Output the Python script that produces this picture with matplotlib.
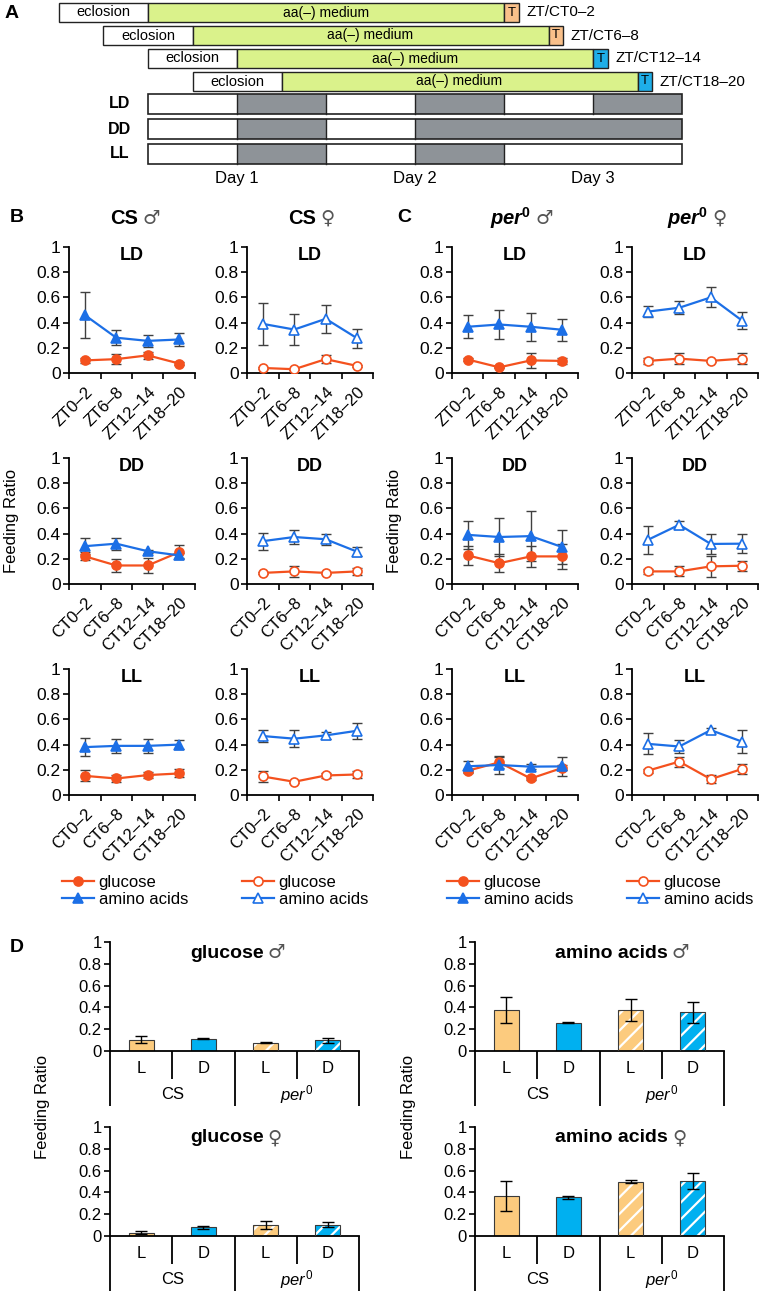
import matplotlib
matplotlib.use('Agg')
import matplotlib.pyplot as plt
import numpy as np
from matplotlib.patches import Rectangle
from matplotlib.lines import Line2D

plt.rcParams['font.family'] = ['Liberation Sans', 'DejaVu Sans']
plt.rcParams['mathtext.fontset'] = 'custom'
plt.rcParams['mathtext.rm'] = 'Liberation Sans'
plt.rcParams['mathtext.it'] = 'Liberation Sans:italic'
plt.rcParams['mathtext.bf'] = 'Liberation Sans:italic:bold'
plt.rcParams['mathtext.sf'] = 'Liberation Sans:bold'
plt.rcParams['hatch.linewidth'] = 1.6

# ---------------- data ----------------
# Panel A schedule (hours, 0 = start of Day 1)
schedule_labels = ['ZT/CT0–2', 'ZT/CT6–8', 'ZT/CT12–14', 'ZT/CT18–20']
eclosion_start = [-12, -6, 0, 6]
eclosion_len = 12
medium_len = 48
test_len = 2
test_colors = ['#F9C08A', '#F9C08A', '#1EAEE8', '#1EAEE8']
light_conditions = ['LD', 'DD', 'LL']
light_patterns = ['LDLDLD', 'LDLDDD', 'LDLDLL']
segment_hours = 12
day_labels = ['Day 1', 'Day 2', 'Day 3']

# Panels B/C
zt_labels = ['ZT0–2', 'ZT6–8', 'ZT12–14', 'ZT18–20']
ct_labels = ['CT0–2', 'CT6–8', 'CT12–14', 'CT18–20']

cs_m_glc = [[0.10, 0.11, 0.14, 0.075], [0.22, 0.147, 0.147, 0.253], [0.152, 0.131, 0.158, 0.171]]
cs_m_glc_err = [[0.02, 0.04, 0.027, 0.01], [0.033, 0.048, 0.056, 0.053], [0.043, 0.03, 0.022, 0.032]]
cs_m_aa = [[0.46, 0.28, 0.255, 0.266], [0.30, 0.32, 0.26, 0.227], [0.38, 0.39, 0.39, 0.40]]
cs_m_aa_err = [[0.185, 0.06, 0.05, 0.05], [0.063, 0.047, 0.01, 0.02], [0.07, 0.057, 0.057, 0.038]]

cs_f_glc = [[0.04, 0.03, 0.11, 0.056], [0.088, 0.10, 0.088, 0.10], [0.147, 0.105, 0.155, 0.163]]
cs_f_glc_err = [[0.008, 0.005, 0.03, 0.008], [0.008, 0.043, 0.008, 0.028], [0.043, 0.006, 0.02, 0.03]]
cs_f_aa = [[0.39, 0.345, 0.43, 0.275], [0.34, 0.373, 0.355, 0.256], [0.468, 0.447, 0.473, 0.51]]
cs_f_aa_err = [[0.165, 0.12, 0.11, 0.075], [0.068, 0.053, 0.043, 0.036], [0.05, 0.067, 0.027, 0.064]]

per_m_glc = [[0.107, 0.045, 0.10, 0.096], [0.227, 0.165, 0.219, 0.219], [0.193, 0.259, 0.131, 0.215]]
per_m_glc_err = [[0.015, 0.005, 0.057, 0.022], [0.078, 0.07, 0.085, 0.1], [0.015, 0.045, 0.01, 0.02]]
per_m_aa = [[0.367, 0.385, 0.367, 0.343], [0.39, 0.373, 0.38, 0.293], [0.228, 0.238, 0.225, 0.227]]
per_m_aa_err = [[0.093, 0.115, 0.11, 0.087], [0.112, 0.15, 0.2, 0.135], [0.045, 0.07, 0.02, 0.077]]

per_f_glc = [[0.096, 0.114, 0.096, 0.114], [0.10, 0.10, 0.14, 0.145], [0.193, 0.265, 0.126, 0.207]]
per_f_glc_err = [[0.026, 0.045, 0.01, 0.045], [0.02, 0.04, 0.085, 0.04], [0.015, 0.04, 0.03, 0.04]]
per_f_aa = [[0.487, 0.518, 0.60, 0.415], [0.35, 0.47, 0.318, 0.32], [0.406, 0.385, 0.515, 0.423]]
per_f_aa_err = [[0.045, 0.052, 0.08, 0.068], [0.11, 0.03, 0.08, 0.076], [0.083, 0.05, 0.015, 0.09]]

# Panel D
bar_light = ['L', 'D', 'L', 'D']
bar_strains = ['CS', r'$\mathit{per}^{0}$']
glc_male = [0.103, 0.112, 0.076, 0.097]
glc_male_err = [0.033, 0.005, 0.003, 0.024]
aa_male = [0.373, 0.26, 0.373, 0.355]
aa_male_err = [0.12, 0.005, 0.10, 0.097]
glc_female = [0.03, 0.079, 0.10, 0.103]
glc_female_err = [0.012, 0.013, 0.036, 0.021]
aa_female = [0.367, 0.355, 0.50, 0.506]
aa_female_err = [0.14, 0.016, 0.01, 0.073]

# ---------------- style ----------------
RED = '#F4511E'
BLUE = '#1C6FE6'
ERR = '#404040'
ORANGE_BAR = '#FCCB7E'
BLUE_BAR = '#00B0F0'
GREEN = '#DAF28B'
DARK = '#8E9398'

W, H = 760, 1293
fig = plt.figure(figsize=(W / 100, H / 100), dpi=100)


def rect(x0, y0, w, h):
    return [x0 / W, 1 - (y0 + h) / H, w / W, h / H]


# background axes in pixel coordinates for free text
bg = fig.add_axes([0, 0, 1, 1], zorder=-5)
bg.set_xlim(0, W)
bg.set_ylim(H, 0)
bg.axis('off')

# ---------------- Panel A ----------------
PXH = 7.417
X0 = 148
axA = fig.add_axes(rect(0, 0, W, 190))
axA.set_xlim(-X0 / PXH, (W - X0) / PXH)
axA.set_ylim(190, 0)
axA.axis('off')
row_tops = [3, 26, 49, 72]
row_h = 19
for i, (es, lab, tc) in enumerate(zip(eclosion_start, schedule_labels, test_colors)):
    yt = row_tops[i]
    axA.add_patch(Rectangle((es, yt), eclosion_len, row_h, facecolor='white', edgecolor='#222222', lw=1))
    ms = es + eclosion_len
    axA.add_patch(Rectangle((ms, yt), medium_len, row_h, facecolor=GREEN, edgecolor='#222222', lw=1))
    ts = ms + medium_len
    axA.add_patch(Rectangle((ts, yt), test_len, row_h, facecolor=tc, edgecolor='#222222', lw=1))
    axA.text(es + eclosion_len / 2, yt + row_h / 2, 'eclosion', ha='center', va='center', fontsize=10.5)
    axA.text(ms + medium_len / 2, yt + row_h / 2, 'aa(–) medium', ha='center', va='center', fontsize=10)
    axA.text(ts + test_len / 2, yt + row_h / 2, 'T', ha='center', va='center', fontsize=9.5)
    axA.text(ts + test_len + 1.0, yt + row_h / 2, lab, ha='left', va='center', fontsize=11)

light_tops = [94, 119, 144]
light_h = 20
for cond, pat, yt in zip(light_conditions, light_patterns, light_tops):
    for k, s in enumerate(pat):
        axA.add_patch(Rectangle((k * segment_hours, yt), segment_hours, light_h,
                                facecolor='white' if s == 'L' else DARK, edgecolor='none'))
    axA.add_patch(Rectangle((0, yt), len(pat) * segment_hours, light_h, facecolor='none', edgecolor='#222222', lw=1.2))
    for k in range(1, len(pat)):
        if pat[k] != pat[k - 1]:
            axA.plot([k * segment_hours] * 2, [yt, yt + light_h], color='#222222', lw=1)
    axA.text(-3.8, yt + light_h / 2, cond, ha='center', va='center', fontsize=11.5, weight='bold')
for k, dl in enumerate(day_labels):
    axA.text(segment_hours + 2 * segment_hours * k, 178, dl, ha='center', va='center', fontsize=12)

bg.text(5, 14, 'A', fontsize=14, weight='bold', va='center')
bg.text(10, 217, 'B', fontsize=14, weight='bold', va='center')
bg.text(397, 217, 'C', fontsize=14, weight='bold', va='center')
bg.text(10, 947, 'D', fontsize=14, weight='bold', va='center')

# ---------------- Panels B/C ----------------
col_x = [69, 247, 452, 632]
row_y = [247, 458, 669]
AXW, AXH = 126, 126
columns = [
    (cs_m_glc, cs_m_glc_err, cs_m_aa, cs_m_aa_err, True),
    (cs_f_glc, cs_f_glc_err, cs_f_aa, cs_f_aa_err, False),
    (per_m_glc, per_m_glc_err, per_m_aa, per_m_aa_err, True),
    (per_f_glc, per_f_glc_err, per_f_aa, per_f_aa_err, False),
]
xpos = np.arange(4) + 0.5
yt_vals = [0, 0.2, 0.4, 0.6, 0.8, 1]
yt_labs = ['0', '0.2', '0.4', '0.6', '0.8', '1']

for c, (g, ge, a, ae, filled) in enumerate(columns):
    for r in range(3):
        ax = fig.add_axes(rect(col_x[c], row_y[r], AXW, AXH))
        ax.patch.set_alpha(0)
        ax.errorbar(xpos, g[r], yerr=ge[r], fmt='none', ecolor=ERR, elinewidth=1, capsize=3.5, capthick=1, zorder=2)
        ax.errorbar(xpos, a[r], yerr=ae[r], fmt='none', ecolor=ERR, elinewidth=1, capsize=3.5, capthick=1, zorder=2)
        ax.plot(xpos, g[r], color=RED, lw=1.6, marker='o', ms=6.5,
                mfc=RED if filled else 'white', mec=RED, mew=1.2, zorder=3)
        ax.plot(xpos, a[r], color=BLUE, lw=1.6, marker='^', ms=7,
                mfc=BLUE if filled else 'white', mec=BLUE, mew=1.2, zorder=3)
        ax.set_xlim(0, 4)
        ax.set_ylim(0, 1)
        for s in ['top', 'right']:
            ax.spines[s].set_visible(False)
        for s in ['left', 'bottom']:
            ax.spines[s].set_linewidth(1.3)
        ax.set_yticks(yt_vals)
        ax.set_yticklabels(yt_labs)
        ax.tick_params(axis='y', direction='out', length=4, width=1.2, labelsize=12.5, pad=2)
        ax.set_xticks([0, 1, 2, 3, 4])
        ax.set_xticklabels([])
        ax.tick_params(axis='x', which='major', direction='out', length=4, width=1.2)
        ax.set_xticks(xpos, minor=True)
        ax.set_xticklabels(zt_labels if r == 0 else ct_labels, minor=True, rotation=45,
                           ha='right', rotation_mode='anchor', fontsize=12)
        ax.tick_params(axis='x', which='minor', length=0, pad=8)
        ax.text(0.5, 1.0, light_conditions[r], transform=ax.transAxes, ha='center', va='top',
                fontsize=13, weight='bold')
        if r == 1 and c in (0, 2):
            bg.text(col_x[c] - 57, row_y[r] + AXH / 2, 'Feeding Ratio',
                    rotation=90, ha='center', va='center', fontsize=12)
    # legend
    handles = [
        Line2D([], [], color=RED, lw=1.6, marker='o', ms=6.5, mfc=RED if filled else 'white', mec=RED, mew=1.2),
        Line2D([], [], color=BLUE, lw=1.6, marker='^', ms=7, mfc=BLUE if filled else 'white', mec=BLUE, mew=1.2),
    ]
    leg_x = [62, 242, 447, 627][c]
    fig.legend(handles, ['glucose', 'amino acids'], loc='upper left',
               bbox_to_anchor=(leg_x / W, 1 - 875 / H), frameon=False, borderpad=0,
               borderaxespad=0, handlelength=1.9, handletextpad=0.3, labelspacing=0.1, fontsize=12)

# column headers
male, female = '♂', '♀'
headers = [('CS', male, 110), ('CS', female, 288),
           (r'$\mathbf{per}^{\mathsf{0}}$', male, 490), (r'$\mathbf{per}^{\mathsf{0}}$', female, 667)]
for txt, sym, x in headers:
    t = bg.text(x, 218, txt, fontsize=14.5, weight='bold', ha='left', va='center')
    bg.annotate(sym, xy=(1, 0.5), xycoords=t, xytext=(3, 0), textcoords='offset points',
                ha='left', va='center', fontsize=14, family='DejaVu Sans', color='#555555')

# ---------------- Panel D ----------------
d_x = [110, 475]
d_y = [942, 1127]
DW, DH = 249, 109
d_panels = [
    (0, 0, glc_male, glc_male_err, 'glucose', male),
    (1, 0, aa_male, aa_male_err, 'amino acids', male),
    (0, 1, glc_female, glc_female_err, 'glucose', female),
    (1, 1, aa_female, aa_female_err, 'amino acids', female),
]
bar_colors = [ORANGE_BAR, BLUE_BAR, ORANGE_BAR, BLUE_BAR]
bar_hatched = [False, False, True, True]
for ci, ri, vals, errs, title, sym in d_panels:
    ax = fig.add_axes(rect(d_x[ci], d_y[ri], DW, DH))
    ax.patch.set_alpha(0)
    xb = np.arange(4)
    for xi, v, col, hat in zip(xb, vals, bar_colors, bar_hatched):
        if hat:
            ax.bar(xi, v, 0.4, color=col, edgecolor='white', hatch='//', linewidth=0, zorder=2)
            ax.bar(xi, v, 0.4, fill=False, edgecolor='#3A3A3A', linewidth=0.8, zorder=3)
        else:
            ax.bar(xi, v, 0.4, color=col, edgecolor='#3A3A3A', linewidth=0.8, zorder=2)
    ax.errorbar(xb, vals, yerr=errs, fmt='none', ecolor='black', elinewidth=1, capsize=4, capthick=1, zorder=4)
    ax.set_xlim(-0.5, 3.5)
    ax.set_ylim(0, 1)
    for s in ['top', 'right']:
        ax.spines[s].set_visible(False)
    for s in ['left', 'bottom']:
        ax.spines[s].set_linewidth(1.3)
    ax.set_yticks(yt_vals)
    ax.set_yticklabels(yt_labs)
    ax.tick_params(axis='y', direction='out', length=4, width=1.2, labelsize=12, pad=2)
    ax.set_xticks([])
    tr = ax.get_xaxis_transform()
    for xv, depth in [(-0.5, -0.5), (0.5, -0.26), (1.5, -0.5), (2.5, -0.26), (3.5, -0.5)]:
        ax.plot([xv, xv], [0, depth], transform=tr, color='black', lw=1.3, clip_on=False,
                solid_capstyle='butt')
    for xi, lab in zip(xb, bar_light):
        ax.text(xi, -0.165, lab, transform=tr, ha='center', va='center', fontsize=12)
    for k, s in enumerate(bar_strains):
        ax.text(0.5 + 2 * k, -0.40, s, transform=tr, ha='center', va='center', fontsize=12)
    t = bg.text(d_x[ci] + 80, d_y[ri] + 11, title, fontsize=14, weight='bold', ha='left', va='center')
    bg.annotate(sym, xy=(1, 0.5), xycoords=t, xytext=(3, 0), textcoords='offset points',
                ha='left', va='center', fontsize=14, family='DejaVu Sans', color='#555555')

bg.text(43, 1107, 'Feeding Ratio', rotation=90, ha='center', va='center', fontsize=12)
bg.text(408, 1107, 'Feeding Ratio', rotation=90, ha='center', va='center', fontsize=12)

fig.savefig('out.png', dpi=100)
